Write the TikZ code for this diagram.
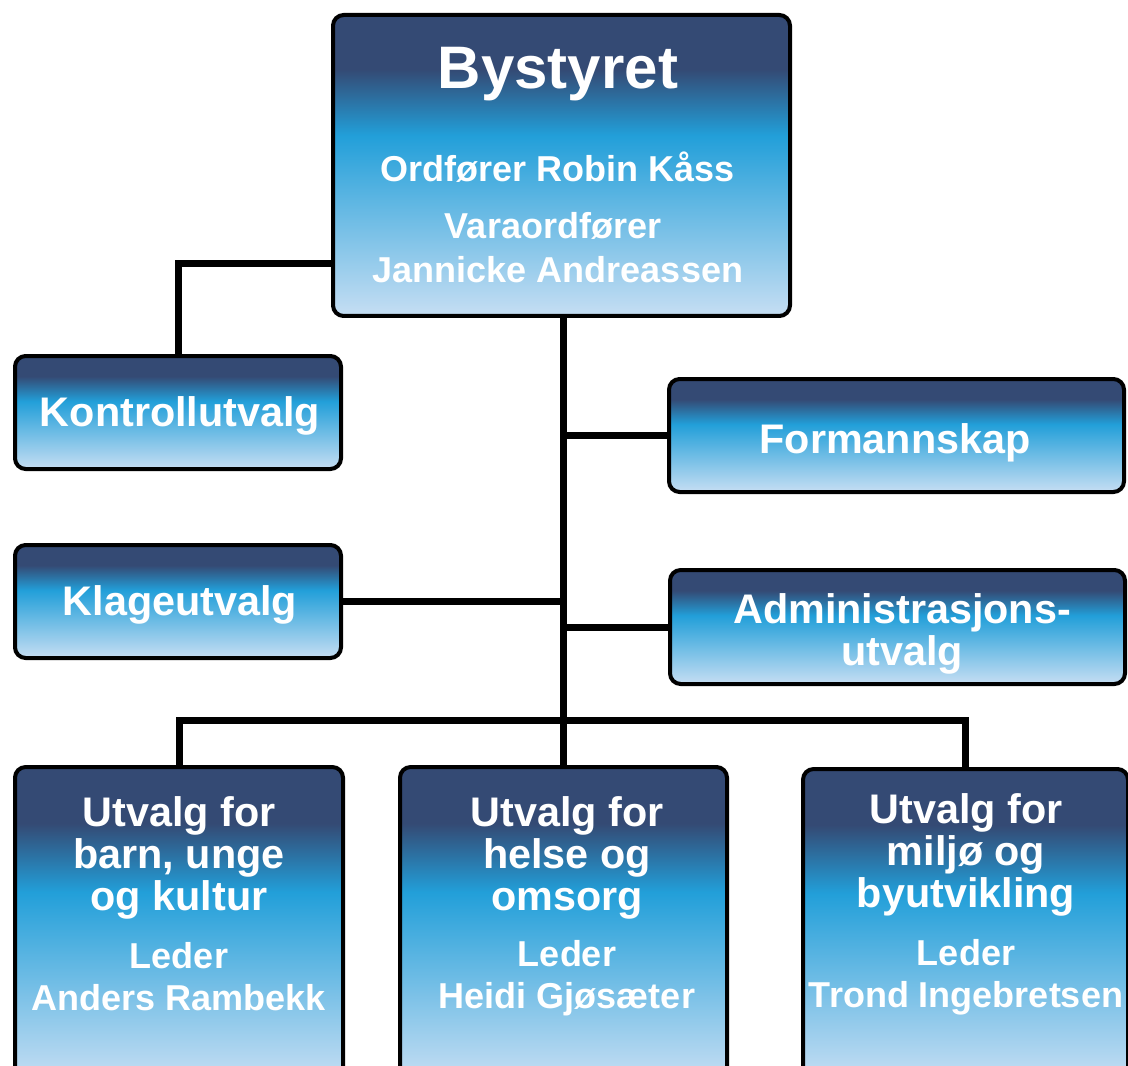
\documentclass[tikz,border=0pt]{standalone}
\usepackage{fontspec}
\setmainfont{Liberation Sans}
\usetikzlibrary{calc}

\definecolor{boxnavy}{RGB}{52,74,116}
\definecolor{boxbright}{RGB}{34,159,217}
\definecolor{boxlight}{RGB}{198,222,243}
\pgfdeclareverticalshading{boxfade}{100bp}{color(0bp)=(boxlight); color(25bp)=(boxlight); color(55bp)=(boxbright); color(66bp)=(boxnavy); color(75bp)=(boxnavy); color(100bp)=(boxnavy)}

\tikzset{
  unit/.style={draw=black, line width=3pt, rounded corners=8pt, shade, shading=boxfade, inner sep=0pt},
  boxdim/.style 2 args={minimum width=#1*0.75pt, minimum height=#2*0.75pt},
  link/.style={line width=5.25pt},
  head/.style={text=white, inner sep=0pt, font=\bfseries\fontsize{45}{50}\selectfont},
  title/.style={text=white, inner sep=0pt, align=center, font=\bfseries\fontsize{31}{31.5}\selectfont},
  sub/.style={text=white, inner sep=0pt, align=center, font=\bfseries\fontsize{27}{31.5}\selectfont},
}

\begin{document}
\begin{tikzpicture}[x=0.75pt,y=0.75pt,yscale=-1,xscale=1]
\useasboundingbox (0,0) rectangle (1128,1066);

%Boxes
\node[unit, boxdim={457}{301}] (bystyret) at (561.5,165.5) {};
\node[unit, boxdim={326}{113}] (kontroll) at (178,412.5) {};
\node[unit, boxdim={455}{113}] (formann) at (896.5,435.5) {};
\node[unit, boxdim={326}{113}] (klage) at (178,601.5) {};
\node[unit, boxdim={455}{114}] (admin) at (897.5,627) {};
\node[unit, boxdim={328}{313}] (barn) at (179,923.5) {};
\node[unit, boxdim={327}{313}] (helse) at (563.5,923.5) {};
\node[unit, boxdim={325}{311}] (miljo) at (965.5,924.5) {};

%Lines
\coordinate (split) at (helse.north |- 0,720);
\draw[link] (helse.north |- bystyret.south) -- (helse.north);
\draw[link] (kontroll.north) |- ($(bystyret.north west)!0.82!(bystyret.south west)$);
\draw[link] (formann.west) -- (formann.west -| helse.north);
\draw[link] (klage.east) -- (klage.east -| helse.north);
\draw[link] (admin.west) -- (admin.west -| helse.north);
\draw[link] (barn.north) |- (split) -| (miljo.north);

% Text Node
\node[head, anchor=base] (bytitle) at (558,89) {Bystyret};
\node[sub, anchor=base] (mayor) at (558,182) {Ordfører Robin Kåss};
\node[sub, anchor=base] (vicetitle) at (553,239) {Varaordfører};
\node[sub, anchor=base] (vice) at (558,283) {Jannicke Andreassen};
% Text Node
\node[title, anchor=base] (kontrolltxt) at (180,426) {Kontrollutvalg};
\node[title, anchor=base] (formanntxt) at (895,453) {Formannskap};
\node[title, anchor=base] (klagetxt) at (180,615) {Klageutvalg};
\node[title, anchor=north] (admintxt) at (902,593) {Administrasjons-\\utvalg};
% Text Node
\node[title, anchor=north] (barntxt) at (179,796) {Utvalg for\\barn, unge\\og kultur};
\node[sub, anchor=north] (barnlead) at (179,942) {Leder\\Anders Rambekk};
\node[title, anchor=north] (helsetxt) at (567,796) {Utvalg for\\helse og\\omsorg};
\node[sub, anchor=north] (helselead) at (567,940) {Leder\\Heidi Gjøsæter};
\node[title, anchor=north] (miljotxt) at (966,793) {Utvalg for\\miljø og\\byutvikling};
\node[sub, anchor=north] (miljolead) at (966,939) {Leder\\Trond Ingebretsen};

\end{tikzpicture}
\end{document}
